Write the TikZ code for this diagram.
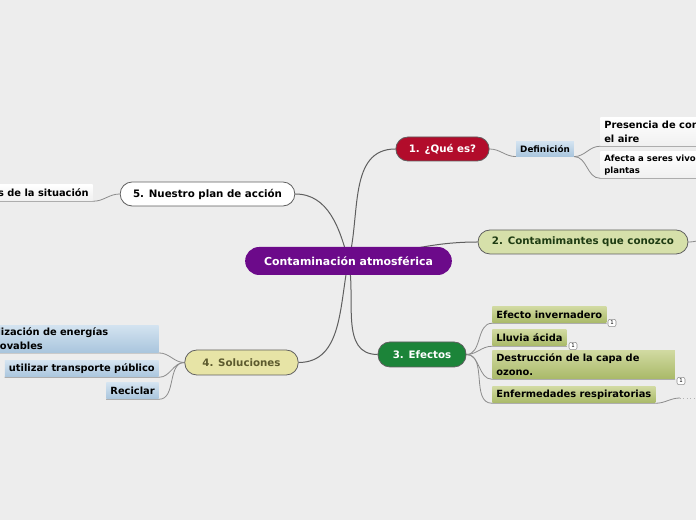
\documentclass[tikz,border=0pt]{standalone}
\usepackage{fontspec}
\setmainfont{DejaVu Sans}
\usetikzlibrary{backgrounds}

\definecolor{bgGray}{HTML}{EDEDED}
\definecolor{centerPurple}{HTML}{6C0A8A}
\definecolor{queRed}{HTML}{B20C2B}
\definecolor{contGreen}{HTML}{D6E0AA}
\definecolor{contText}{HTML}{1E3B12}
\definecolor{efecGreen}{HTML}{1C8439}
\definecolor{solYellow}{HTML}{E7E4A6}
\definecolor{solText}{HTML}{5C5A2E}
\definecolor{blueTop}{HTML}{D3E3F0}
\definecolor{blueBot}{HTML}{A9C5DD}
\definecolor{oliveTop}{HTML}{D0D9A0}
\definecolor{oliveBot}{HTML}{A9B968}
\definecolor{linkGray}{HTML}{5F5F5F}

\begin{document}
\begin{tikzpicture}[x=0.75pt,y=0.75pt,
    topic/.style={draw=linkGray, line width=0.6pt, rounded corners=9pt,
      font=\fontsize{7.7}{9}\selectfont\bfseries, minimum height=18pt},
    leaf/.style={font=\fontsize{7.4}{10.5}\selectfont\bfseries, inner xsep=3pt,
      inner ysep=2pt, minimum height=12pt, align=left},
    bluebox/.style={leaf, top color=blueTop, bottom color=blueBot},
    olivebox/.style={leaf, top color=oliveTop, bottom color=oliveBot},
    whitebox/.style={leaf, top color=white, bottom color=black!6},
    badge/.style={draw=black!45, fill=white, rounded corners=1.5pt, inner sep=0.8pt,
      minimum width=6pt, minimum height=5.5pt, font=\fontsize{4}{4}\selectfont},
    link/.style={draw=linkGray, line width=0.75pt},
    sublink/.style={draw=black!45, line width=0.6pt}]
  \useasboundingbox (0,0) rectangle (696,520);
  \clip (0,0) rectangle (696,520);

  % main topics
  \node[fill=centerPurple, text=white, rounded corners=10.5pt, minimum width=155pt,
    minimum height=21pt, font=\fontsize{8.2}{10}\selectfont\bfseries] (center) at (348.5,259)
    {Contaminación atmosférica};
  \node[topic, fill=queRed, text=white, minimum width=70pt] (que) at (442.5,371) {1. ¿Qué es?};
  \node[topic, fill=contGreen, text=contText, minimum width=157.5pt] (cont) at (583,278)
    {2. Contamimantes que conozco};
  \node[topic, fill=efecGreen, text=white, minimum width=66pt, minimum height=18.75pt] (efec)
    at (422,165.5) {3. Efectos};
  \node[topic, fill=solYellow, text=solText, minimum width=85pt, minimum height=18.75pt] (sol)
    at (241.5,157.5) {4. Soluciones};
  \node[topic, fill=white, text=black, minimum width=131pt] (plan) at (207.5,326)
    {5. Nuestro plan de acción};

  % 1. que es
  \node[bluebox, font=\fontsize{6.6}{8}\selectfont\bfseries, minimum height=11pt] (defi)
    at (545,371) {Definición};
  \node[whitebox, anchor=west, minimum height=21pt] (pres) at (600,388)
    {Presencia de contaminantes en\\el aire};
  \node[whitebox, anchor=west, minimum height=19.5pt,
    font=\fontsize{6.4}{9}\selectfont\bfseries] (afec) at (600,355)
    {Afecta a seres vivos y\\plantas};

  % 3. efectos
  \node[olivebox, anchor=west] (inver) at (492,205) {Efecto invernadero};
  \node[olivebox, anchor=west] (lluvia) at (492,182) {Lluvia ácida};
  \node[olivebox, anchor=west, minimum height=21pt, text width=131pt] (ozono) at (492,155)
    {Destrucción de la capa de\\ozono.};
  \node[olivebox, anchor=west] (enfer) at (492,125) {Enfermedades respiratorias};
  \node[badge] (b1) at (612,197) {1};
  \node[badge] (b2) at (573,174) {1};
  \node[badge] (b3) at (681,139) {1};

  % 4. soluciones
  \node[bluebox, anchor=east, text width=130pt, minimum height=19.5pt] (renov) at (159,181)
    {Utilización de energías\\renovables};
  \node[bluebox, anchor=east] (trans) at (159,151) {utilizar transporte público};
  \node[bluebox, anchor=east] (recic) at (159,129) {Reciclar};

  % 5. plan
  \node[whitebox, anchor=east] (anal) at (93,327) {Análisis de la situación};

  \coordinate (contEnd) at (710,281);
  \coordinate (enfBend) at (680,122);
  \coordinate (enfEnd) at (700,122);

  \begin{scope}[on background layer]
    \fill[bgGray] (0,0) rectangle (696,520);
    \draw[link] (center.center) to[out=75,in=180] (que.west);
    \draw[link] (center.center) to[out=8,in=180] (cont.west);
    \draw[link] (center.center) to[out=-78,in=180] (efec.west);
    \draw[link] (center.center) to[out=-102,in=0] (sol.east);
    \draw[link] (center.center) to[out=105,in=0] (plan.east);
    \draw[sublink] (cont.east) to[out=0,in=180] (contEnd);

    \draw[sublink] (que.east) to[out=0,in=180] (defi.south west) -- (defi.south east);
    \draw[sublink] (defi.south east) to[out=0,in=180] (pres.south west) -- (pres.south east);
    \draw[sublink] (defi.south east) to[out=0,in=180] (afec.south west) -- (afec.south east);

    \draw[sublink] (efec.east) to[out=0,in=180] (inver.south west) -- (inver.south east);
    \draw[sublink] (efec.east) to[out=0,in=180] (lluvia.south west) -- (lluvia.south east);
    \draw[sublink] (efec.east) to[out=0,in=180] (ozono.south west) -- (ozono.south east);
    \draw[sublink] (efec.east) to[out=0,in=180] (enfer.south west) -- (enfer.south east);
    \draw[sublink] (enfer.south east) to[out=0,in=180] (enfBend);
    \draw[sublink, draw=black!30, dotted] (enfBend) -- (enfEnd);

    \draw[sublink] (sol.west) to[out=180,in=0] (renov.south east) -- (renov.south west);
    \draw[sublink] (sol.west) to[out=180,in=0] (trans.south east) -- (trans.south west);
    \draw[sublink] (sol.west) to[out=180,in=0] (recic.south east) -- (recic.south west);

    \draw[sublink] (plan.west) to[out=180,in=0] (anal.south east) -- (anal.south west);
  \end{scope}
\end{tikzpicture}
\end{document}
